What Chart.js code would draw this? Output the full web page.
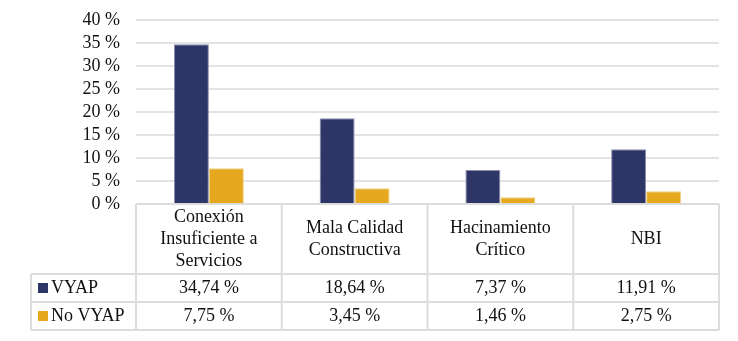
<!DOCTYPE html>
<html>
<head>
<meta charset="utf-8">
<script src="https://cdn.jsdelivr.net/npm/chart.js@4"></script>
<style>
html,body{margin:0;padding:0;background:#fff;}
#wrap{width:738px;height:341px;position:relative;}
</style>
</head>
<body>
<div id="wrap"><canvas id="c" width="738" height="341"></canvas></div>
<script>
const categories = [["Conexión","Insuficiente a","Servicios"],["Mala Calidad","Constructiva"],["Hacinamiento","Crítico"],["NBI"]];
const seriesNames = ["VYAP","No VYAP"];
const vyap = [34.74, 18.64, 7.37, 11.91];
const noVyap = [7.75, 3.45, 1.46, 2.75];
const yTicks = [0,5,10,15,20,25,30,35,40];

const colors = ["#2E3567","#E5A81F"];
const FAMILY = '"Liberation Serif", "Times New Roman", serif';
const FONT = '18px ' + FAMILY;
const BORDER = "#dcdcdc";

function fmt(v){ return v.toFixed(2).replace('.', ',') + ' %'; }

const tablePlugin = {
  id: 'dataTable',
  afterDraw(chart){
    const ctx = chart.ctx;
    const x = chart.scales.x;
    const area = chart.chartArea;
    const n = categories.length;
    const w = (x.right - x.left) / n;
    const top = area.bottom;
    const headerH = 70, rowH = 28;
    const leftEdge = 31;
    const r1 = top + headerH, r2 = r1 + rowH, r3 = r2 + rowH;
    ctx.save();
    ctx.strokeStyle = BORDER;
    ctx.lineWidth = 2;
    ctx.beginPath();
    ctx.moveTo(x.left, top); ctx.lineTo(x.right, top);
    [r1, r2, r3].forEach(y => { ctx.moveTo(leftEdge, y); ctx.lineTo(x.right, y); });
    for (let i = 0; i <= n; i++) {
      const xx = x.left + i * w;
      ctx.moveTo(xx, top); ctx.lineTo(xx, r3);
    }
    ctx.moveTo(leftEdge, r1); ctx.lineTo(leftEdge, r3);
    ctx.stroke();

    ctx.fillStyle = "#111";
    ctx.font = FONT;
    ctx.textAlign = 'center';
    ctx.textBaseline = 'middle';
    const lh = 22;
    categories.forEach((lines, i) => {
      const cx = x.getPixelForValue(i);
      const cy = top + headerH / 2;
      const start = cy - (lines.length - 1) * lh / 2;
      lines.forEach((t, j) => ctx.fillText(t, cx, start + j * lh));
    });
    const rows = [vyap, noVyap];
    const rowY = [r1 + rowH / 2, r2 + rowH / 2];
    rows.forEach((vals, r) => {
      vals.forEach((v, i) => {
        ctx.fillText(fmt(v), x.getPixelForValue(i), rowY[r]);
      });
      ctx.fillStyle = colors[r];
      ctx.fillRect(38, rowY[r] - 5, 10, 10);
      ctx.fillStyle = "#111";
      ctx.textAlign = 'left';
      ctx.fillText(seriesNames[r], 51, rowY[r]);
      ctx.textAlign = 'center';
    });
    ctx.restore();
  }
};

function draw(){
  new Chart(document.getElementById('c'), {
    type: 'bar',
    data: {
      labels: categories.map(c => c.join(' ')),
      datasets: [
        { label: seriesNames[0], data: vyap, backgroundColor: colors[0], borderColor: '#8d91ad', borderWidth: 1 },
        { label: seriesNames[1], data: noVyap, backgroundColor: colors[1], borderColor: '#f0cf86', borderWidth: 1 }
      ]
    },
    options: {
      responsive: false,
      animation: false,
      events: [],
      layout: { padding: { top: 20, right: 19, bottom: 137, left: 0 } },
      categoryPercentage: 0.48,
      barPercentage: 1.0,
      plugins: { legend: { display: false }, tooltip: { enabled: false } },
      scales: {
        x: { display: false, offset: true },
        y: {
          min: 0, max: 40,
          afterBuildTicks(s){ s.ticks = yTicks.map(v => ({ value: v })); },
          afterFit(s){ s.width = 136; },
          border: { display: false },
          grid: { color: '#e3e3e3', lineWidth: 2, drawTicks: true, tickLength: 13, tickColor: 'rgba(0,0,0,0)' },
          ticks: {
            autoSkip: false,
            padding: 3,
            color: '#111',
            font: { family: FAMILY, size: 18 },
            callback: v => v + ' %'
          }
        }
      }
    },
    plugins: [tablePlugin]
  });
}
if (document.fonts && document.fonts.load) {
  document.fonts.load(FONT).then(draw, draw);
} else { draw(); }
</script>
</body>
</html>
